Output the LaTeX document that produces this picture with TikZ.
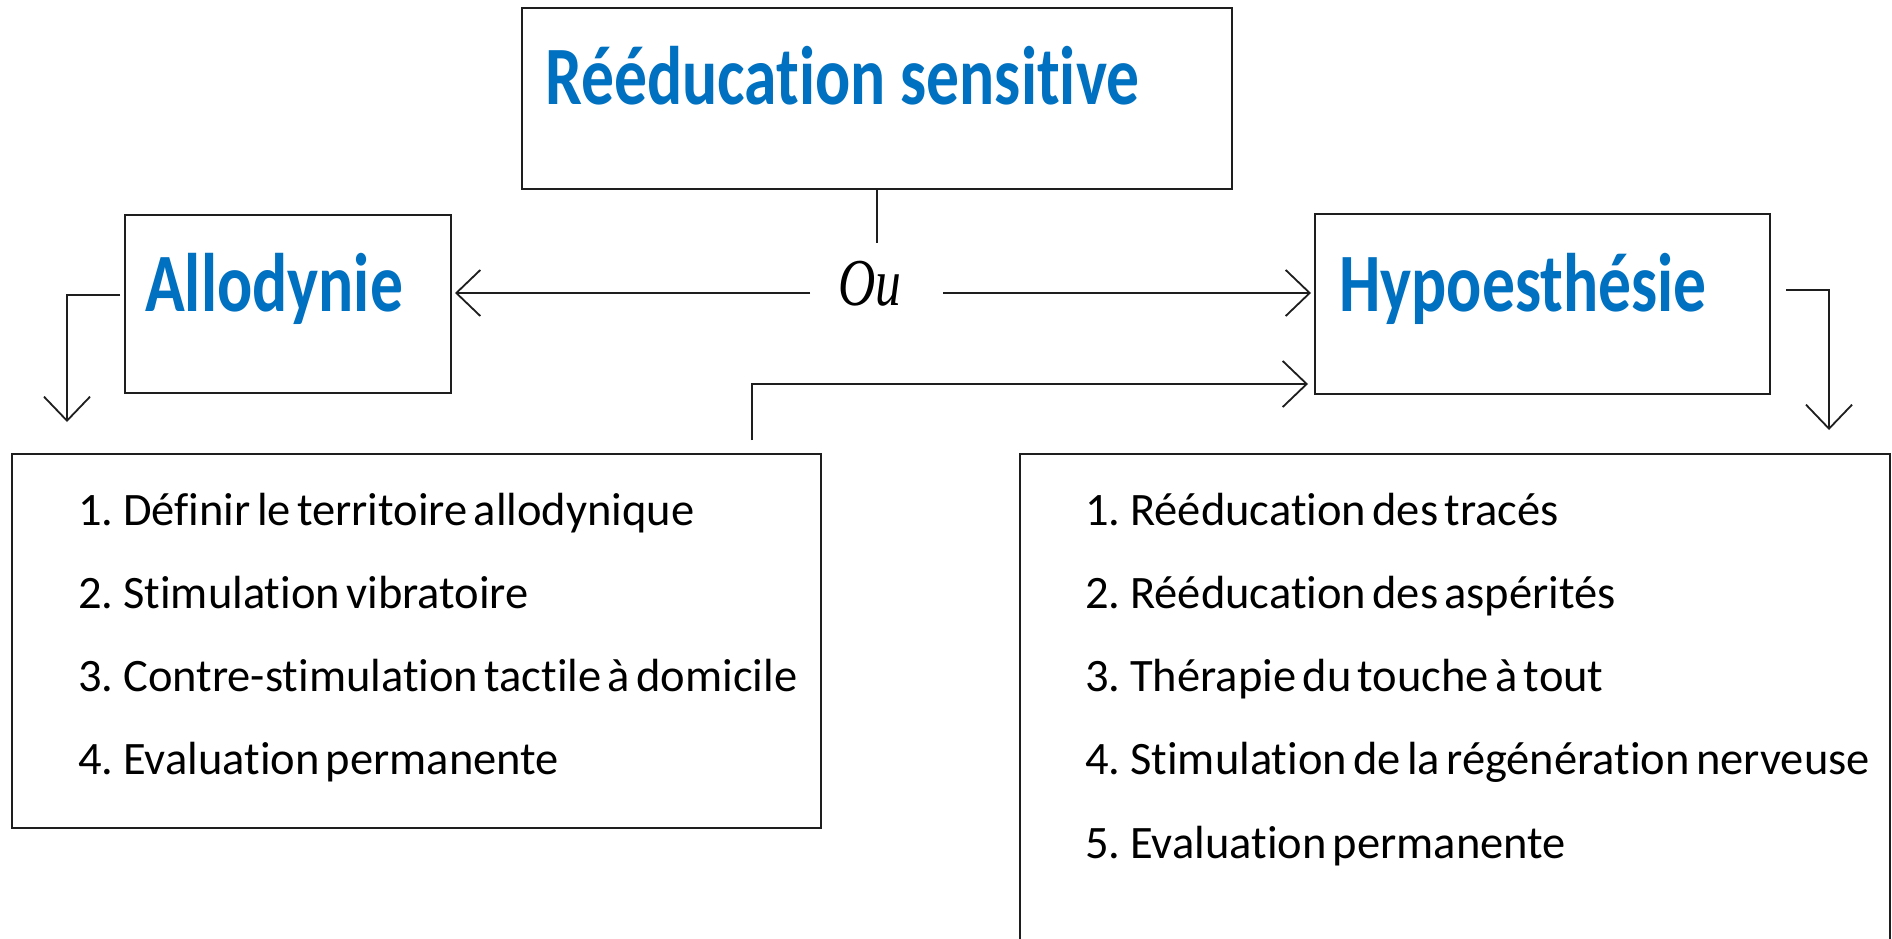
\documentclass[tikz,border=0pt]{standalone}
\usepackage{fontspec}
\usetikzlibrary{arrows.meta}
\newfontfamily\titlefont[FakeStretch=0.79,Ligatures=NoCommon]{Carlito}
\newfontfamily\listfont[WordSpace=0.6,Ligatures=NoCommon]{Carlito}
\newfontfamily\oufont[FakeStretch=0.77]{Liberation Serif}
\definecolor{titleblue}{HTML}{0070C0}
\definecolor{linegray}{HTML}{1E1E1E}
\begin{document}
\begin{tikzpicture}[x=1pt,y=-1pt,
    box/.style={draw=linegray,line width=2pt,inner sep=0pt,outer sep=0pt,anchor=north west},
    heading/.style={text=titleblue,inner sep=0pt,anchor=base west,font=\titlefont\bfseries\fontsize{83}{96}\selectfont},
    item/.style={inner sep=0pt,anchor=base west,font=\listfont\fontsize{46.5}{55}\selectfont},
    conn/.style={draw=linegray,line width=1.8pt},
    >={Straight Barb[length=24pt,width=46pt]}]
    \useasboundingbox[fill=white] (0,0) rectangle (1892,939);

    \node[box,minimum width=710pt,minimum height=181pt] (top) at (522,8) {};
    \node[box,minimum width=326pt,minimum height=178pt] (allo) at (125,215) {};
    \node[box,minimum width=455pt,minimum height=180pt] (hypo) at (1315,214) {};
    \node[box,minimum width=809pt,minimum height=374pt] (llist) at (12,454) {};
    \node[box,minimum width=870pt,minimum height=540pt] (rlist) at (1020,454) {};

    \node[heading] (toptitle) at (545,105) {Rééducation sensitive};
    \node[heading] (allotitle) at (145,311) {Allodynie};
    \node[heading] (hypotitle) at (1339,311) {Hypoesthésie};
    \node[inner sep=0pt,font=\oufont\itshape\fontsize{67}{75}\selectfont] (ou) at (870,284) {Ou};

    \foreach \txt [count=\i] in {Définir le territoire allodynique,
        Stimulation vibratoire,
        Contre-stimulation tactile à domicile,
        Evaluation permanente}
      \node[item] (l\i) at (78,{525+83.3*(\i-1)}) {\i. \txt};
    \foreach \txt [count=\i] in {Rééducation des tracés,
        Rééducation des aspérités,
        Thérapie du touche à tout,
        Stimulation de la régénération nerveuse,
        Evaluation permanente}
      \node[item] (r\i) at (1085,{525+83.3*(\i-1)}) {\i. \txt};

    \coordinate (stem) at (877,243);
    \coordinate (ouleft) at (810,293);
    \coordinate (ouright) at (943,293);
    \coordinate (allostart) at (120,295);
    \coordinate (alloend) at (67,422);
    \coordinate (hypostart) at (1786,290);
    \coordinate (hypoend) at (1829,430);
    \coordinate (loopstart) at (752,440);
    \coordinate (loopend) at (1308,384);

    \draw[conn] (top.south) -- (top.south |- stem);
    \draw[conn,->,shorten >=4pt] (ouleft) -- (ouleft -| allo.east);
    \draw[conn,->,shorten >=4pt] (ouright) -- (ouright -| hypo.west);
    \draw[conn,->] (allostart) -| (alloend);
    \draw[conn,->] (hypostart) -| (hypoend);
    \draw[conn,->] (loopstart) |- (loopend);
\end{tikzpicture}
\end{document}
